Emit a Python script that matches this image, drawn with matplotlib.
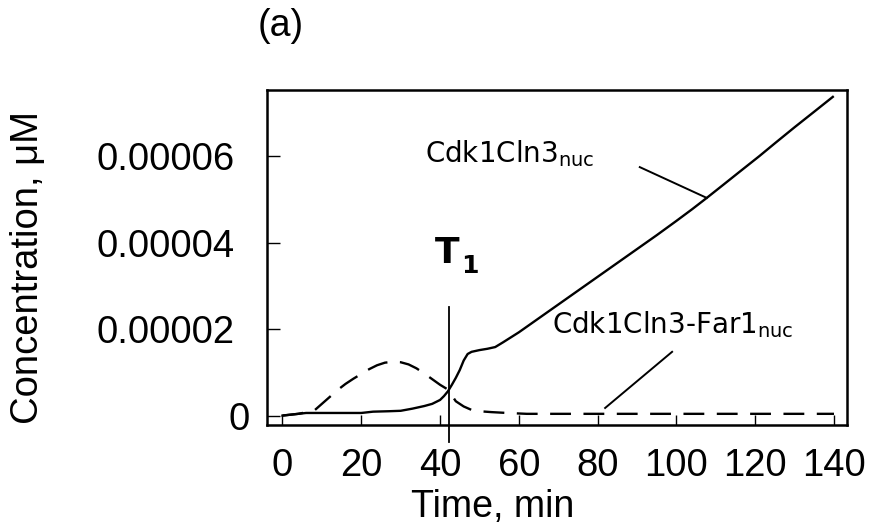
import matplotlib
matplotlib.use("Agg")
import matplotlib.pyplot as plt
import matplotlib.transforms as mtransforms

# ---- data ----
time_solid = [0, 3, 6, 10, 15, 20, 23, 27, 30, 33, 36, 38, 40, 41, 42, 43, 44, 45, 46, 47, 48,
              50, 52, 54, 56, 60, 65, 70, 75, 80, 85, 90, 95, 100, 104, 107.7, 112, 116,
              121, 125, 130, 135, 139.7]
cdk1cln3_nuc = [0.1, 0.4, 0.7, 0.7, 0.7, 0.7, 1.0, 1.1, 1.2, 1.7, 2.3, 2.8, 3.7, 4.6, 5.7, 7.2,
                8.8, 10.6, 12.8, 14.3, 14.8, 15.2, 15.5, 15.9, 17.0, 19.3, 22.5, 25.7, 28.9,
                32.1, 35.3, 38.5, 41.7, 45.0, 47.7, 50.3, 53.4, 56.3, 59.9, 62.9, 66.6, 70.2, 73.6]
time_dash = [0, 4, 8, 10, 12, 14, 16, 18, 20, 22, 24, 26, 28, 30, 32, 34, 36, 38, 40, 42,
             44, 46, 48, 50, 53, 57, 62, 80, 100, 120, 140]
cdk1cln3_far1_nuc = [0.1, 0.5, 1.2, 2.8, 4.4, 6.0, 7.4, 8.6, 9.7, 10.8, 11.7, 12.3, 12.5, 12.4,
                     11.9, 11.0, 9.8, 8.5, 7.2, 6.1, 3.4, 2.2, 1.4, 1.1, 0.9, 0.7, 0.5, 0.5,
                     0.5, 0.5, 0.5]
scale = 1e-6
x_ticks = [0, 20, 40, 60, 80, 100, 120, 140]
y_ticks = [0, 0.00002, 0.00004, 0.00006]
y_ticklabels = ["0", "0.00002", "0.00004", "0.00006"]
t1_time = 42.3

plt.rcParams['mathtext.fontset'] = 'dejavusans'
plt.rcParams['lines.scale_dashes'] = False

fig = plt.figure(figsize=(8.7, 5.25), dpi=100)
ax = fig.add_axes([267/870, 1-424.5/525, 580/870, 335/525])

ax.plot(time_solid, [v*scale for v in cdk1cln3_nuc], color='black', lw=1.7)
ax.plot(time_dash, [v*scale for v in cdk1cln3_far1_nuc], color='black', lw=1.7,
        dashes=(15, 9))

ax.set_xlim(-3.93, 143.3)
ax.set_ylim(-1.96e-6, 7.53e-5)

for s in ax.spines.values():
    s.set_linewidth(1.8)

ax.set_xticks(x_ticks)
ax.set_xticklabels([str(v) for v in x_ticks], fontfamily='Liberation Sans', fontsize=27.5)
ax.set_yticks(y_ticks)
ax.set_yticklabels(y_ticklabels, fontfamily='Liberation Sans', fontsize=27.5)
ax.tick_params(axis='x', direction='in', length=7, width=1.0, pad=17)
ax.tick_params(axis='y', direction='in', length=9, width=1.0, pad=23.5)

# the "0" y tick label sits closer to the axis in the reference
lab0 = ax.get_yticklabels()[0]
lab0.set_transform(lab0.get_transform() + mtransforms.ScaledTranslation(15/100, 0, fig.dpi_scale_trans))

# T1 vertical line
ax.plot([t1_time, t1_time], [-6.0e-6, 2.51e-5], color='black', lw=1.3, clip_on=False)
ax.text(38.7, 3.53e-5, "T", fontfamily='DejaVu Sans', fontweight='bold', fontsize=26, va='baseline')
ax.text(45.4, 3.30e-5, "1", fontfamily='DejaVu Sans', fontweight='bold', fontsize=18, va='baseline')

# curve labels with leader lines
ax.text(36.2, 5.86e-5, r"Cdk1Cln3$_{\mathrm{nuc}}$", fontfamily='DejaVu Sans', fontsize=20,
        va='baseline')
ax.plot([90.7, 107.7], [5.74e-5, 5.03e-5], color='black', lw=1.4)
ax.text(68.4, 1.91e-5, r"Cdk1Cln3-Far1$_{\mathrm{nuc}}$", fontfamily='DejaVu Sans', fontsize=20,
        va='baseline')
ax.plot([98.9, 81.9], [1.48e-5, 1.85e-6], color='black', lw=1.4)

fig.text(28/870, 1-268/525, "Concentration, \u03bcM", rotation=90, ha='center', va='center',
         fontfamily='Liberation Sans', fontsize=27.5)
fig.text(493/870, 1-517/525, "Time, min", ha='center', va='baseline',
         fontfamily='Liberation Sans', fontsize=27)
fig.text(281/870, 1-26/525, "(a)", ha='center', va='center',
         fontfamily='Liberation Sans', fontsize=27)

fig.savefig("out.png", dpi=100)
